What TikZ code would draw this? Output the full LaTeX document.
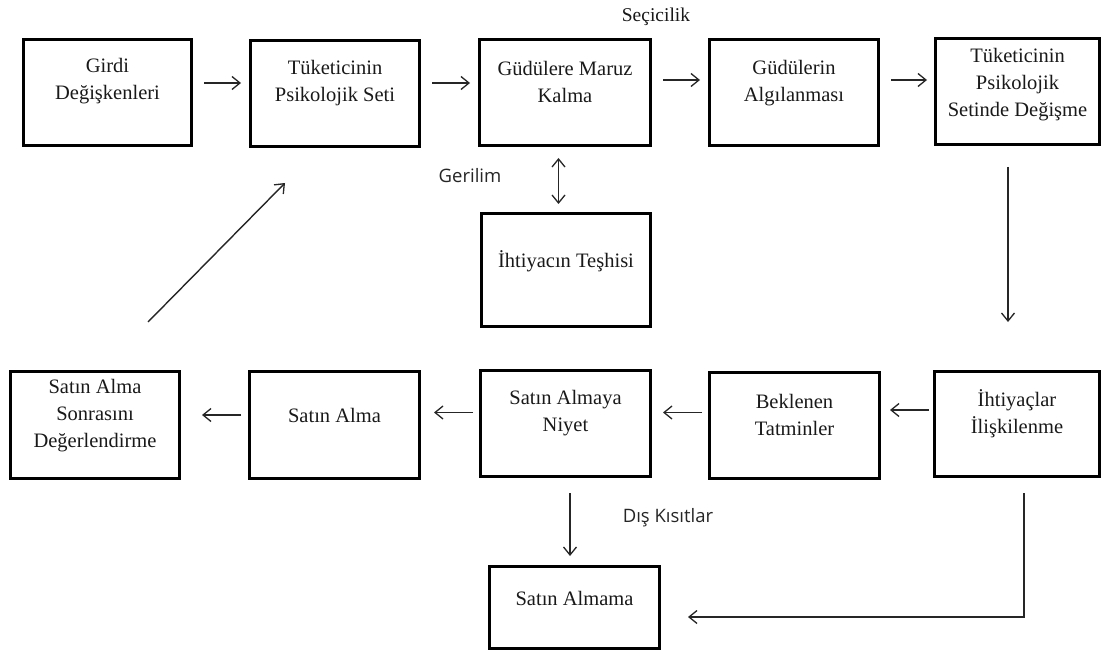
\documentclass[tikz,border=0pt]{standalone}
\usepackage{fontspec}
\setmainfont{Liberation Serif}
\newfontfamily\labelfont{Open Sans}
\usetikzlibrary{arrows.meta,calc}
\begin{document}
\begin{tikzpicture}[x=1pt,y=-1pt]
\tikzset{
  box/.style={draw=black, line width=3pt, fill=white, rectangle, inner sep=0pt},
  txt/.style={align=center, font=\fontsize{20.5}{27}\selectfont, inner sep=0pt, text=black!90},
  lbl/.style={font=\labelfont\fontsize{18.5}{22}\selectfont, inner sep=0pt, text=black!85},
  arr/.style={-{Straight Barb[length=8pt,width=13pt,line width=1.3pt]}, line width=1.4pt, draw=black!85},
  darr/.style={{Straight Barb[length=8pt,width=13pt,line width=1.3pt]}-{Straight Barb[length=8pt,width=13pt,line width=1.3pt]}, line width=1.4pt, draw=black!85},
}
\useasboundingbox (0,0) rectangle (1105,655);
\fill[white] (0,0) rectangle (1105,655);

% top row
\node[box, minimum width=168pt, minimum height=106pt] (b1) at (107.5,92.5) {};
\node[box, minimum width=169pt, minimum height=106pt] (b2) at (335,94) {};
\node[box, minimum width=171pt, minimum height=106pt] (b3) at (565,92.5) {};
\node[box, minimum width=169pt, minimum height=106pt] (b4) at (794,92.5) {};
\node[box, minimum width=164pt, minimum height=106pt] (b5) at (1017.5,91.5) {};
% middle
\node[box, minimum width=169pt, minimum height=113pt] (d) at (566,270) {};
% bottom row
\node[box, minimum width=169pt, minimum height=107pt] (c1) at (95,425) {};
\node[box, minimum width=170pt, minimum height=107pt] (c2) at (334.5,425) {};
\node[box, minimum width=170pt, minimum height=106pt] (c3) at (565.5,423.5) {};
\node[box, minimum width=170pt, minimum height=106pt] (c4) at (794.5,425) {};
\node[box, minimum width=165pt, minimum height=105pt] (c5) at (1017,424) {};
\node[box, minimum width=170pt, minimum height=82pt] (e) at (574.5,607.5) {};

% texts
\node[txt] (b1t) at ([yshift=11pt]b1.center) {Girdi\\Değişkenleri};
\node[txt] (b2t) at ([yshift=11pt]b2.center) {Tüketicinin\\Psikolojik Seti};
\node[txt] (b3t) at ([yshift=11pt]b3.center) {Güdülere Maruz\\Kalma};
\node[txt] (b4t) at ([yshift=9pt]b4.center) {Güdülerin\\Algılanması};
\node[txt] (b5t) at ([yshift=7pt]b5.center) {Tüketicinin\\Psikolojik\\Setinde Değişme};
\node[txt] (dt) at ([yshift=9pt]d.center) {İhtiyacın Teşhisi};
\node[txt] (c1t) at ([yshift=9pt]c1.center) {Satın Alma\\Sonrasını\\Değerlendirme};
\node[txt] (c2t) at ([yshift=10pt]c2.center) {Satın Alma};
\node[txt] (c3t) at ([yshift=10pt]c3.center) {Satın Almaya\\Niyet};
\node[txt] (c4t) at ([yshift=10pt]c4.center) {Beklenen\\Tatminler};
\node[txt] (c5t) at ([yshift=10pt]c5.center) {İhtiyaçlar\\İlişkilenme};
\node[txt] (et) at ([yshift=9.5pt]e.center) {Satın Almama};

% labels
\node[txt, font=\fontsize{19.5}{22}\selectfont] (sec) at (656,17) {Seçicilik};
\node[lbl] (ger) at (470,176) {Gerilim};
\node[lbl] (dis) at (668,518) {Dış Kısıtlar};

% top row arrows
\draw[arr, shorten <=11pt, shorten >=8pt] ([yshift=9.5pt]b1.east) -- ([yshift=9.5pt]b1.east -| b2.west);
\draw[arr, shorten <=11pt, shorten >=8pt] ([yshift=11pt]b2.east) -- ([yshift=11pt]b2.east -| b3.west);
\draw[arr, shorten <=11pt, shorten >=8pt] ([yshift=12.5pt]b3.east) -- ([yshift=12.5pt]b3.east -| b4.west);
\draw[arr, shorten <=11pt, shorten >=7pt] ([yshift=12.5pt]b4.east) -- ([yshift=12.5pt]b4.east -| b5.west);

% bottom row arrows (leftwards)
\draw[arr, shorten <=4pt, shorten >=9pt] ([yshift=14pt]c5.west) -- ([yshift=14pt]c5.west -| c4.east);
\draw[arr, shorten <=6pt, shorten >=11pt] ([yshift=12.5pt]c4.west) -- ([yshift=12.5pt]c4.west -| c3.east);
\draw[arr, shorten <=6pt, shorten >=13pt] ([yshift=11pt]c3.west) -- ([yshift=11pt]c3.west -| c2.east);
\draw[arr, shorten <=7pt, shorten >=21pt] ([yshift=10pt]c2.west) -- ([yshift=10pt]c2.west -| c1.east);

% tension double arrow
\draw[darr, shorten <=11pt, shorten >=8pt] ([xshift=-6.5pt]b3.south) -- ([xshift=-6.5pt]b3.south |- d.north);

% diagonal feedback arrow
\coordinate (g1) at (148,322);
\coordinate (g2) at (285,183);
\draw[arr] (g1) -- (g2);

% right vertical arrow
\draw[arr, shorten <=21pt, shorten >=48pt] ([xshift=-9.5pt]b5.south) -- ([xshift=-9.5pt]b5.south |- c5.north);

% down to Satin Almama
\draw[arr, shorten <=15pt, shorten >=9pt] ([xshift=4.5pt]c3.south) -- ([xshift=4.5pt]c3.south |- e.north);

% from C5 to Satin Almama
\draw[arr, shorten <=15pt, shorten >=27pt] ([xshift=7pt]c5.south) |- ([yshift=-9.5pt]e.east);
\end{tikzpicture}
\end{document}
